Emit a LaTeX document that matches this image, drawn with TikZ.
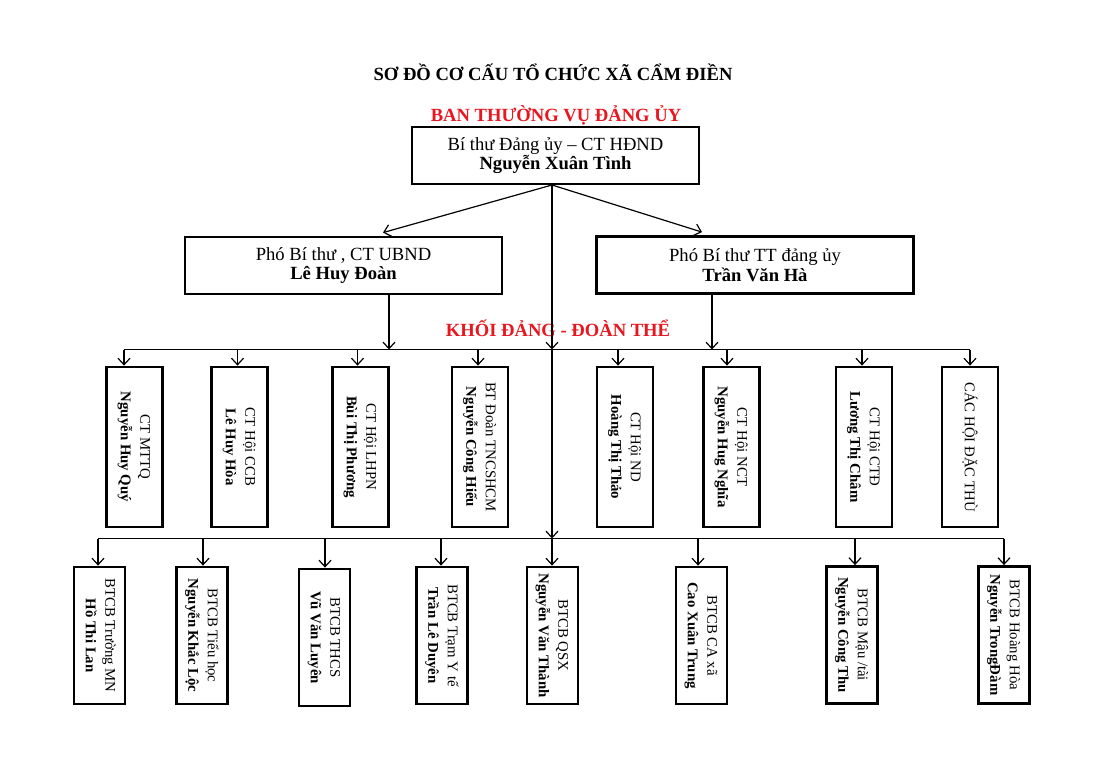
\documentclass[tikz,border=0pt]{standalone}
\usepackage{fontspec}
\setmainfont{Liberation Serif}
\usepackage{graphicx}
\usetikzlibrary{arrows.meta}
\definecolor{redlbl}{RGB}{232,22,30}
\newcommand{\vtxt}[2]{\rotatebox{-90}{\begin{tabular}{@{}c@{}}#1\\\textbf{#2}\end{tabular}}}
\newcommand{\vone}[1]{\rotatebox{-90}{#1}}
\begin{document}
\begin{tikzpicture}[x=1pt,y=-1pt,
 hbox/.style={draw, line width=2.8pt, minimum width=317pt, minimum height=57pt, inner sep=0pt, align=center, font=\fontsize{18.6}{19.5}\selectfont},
 vbox/.style={draw, line width=2.8pt, inner sep=0pt, font=\fontsize{14.8}{19.5}\selectfont},
 uprow/.style={vbox, minimum width=56pt, minimum height=160pt},
 lowrow/.style={vbox, minimum width=51pt, minimum height=137pt},
 conn/.style={line width=1.2pt},
 arr/.style={conn, -{Straight Barb[length=6.5pt,width=12pt]}},
 lbl/.style={font=\fontsize{18.6}{20}\selectfont\bfseries}]
\useasboundingbox[fill=white] (0,0) rectangle (1106,777);

\node[lbl] (title) at (553,72) {SƠ ĐỒ CƠ CẤU TỔ CHỨC XÃ CẨM ĐIỀN};
\node[lbl, text=redlbl] (ban) at (556,115) {BAN THƯỜNG VỤ ĐẢNG ỦY};
\node[hbox, minimum width=287pt] (top) at (555.5,155.5) {Bí thư Đảng ủy – CT HĐND\\\textbf{Nguyễn Xuân Tình}};
\node[hbox] (ld) at (343.5,265.5) {Phó Bí thư , CT UBND\\\textbf{Lê Huy Đoàn}};
\node[hbox] (rd) at (755,265) {Phó Bí thư TT đảng ủy\\\textbf{Trần Văn Hà}};
\node[lbl, text=redlbl] (khoi) at (558,328) {KHỐI ĐẢNG - ĐOÀN THỂ};

% upper row
\node[uprow] (m1) at (134.5,447) {\vtxt{CT MTTQ}{Nguyễn Huy Quý}};
\node[uprow] (m2) at (239.5,447) {\vtxt{CT Hội CCB}{Lê Huy Hòa}};
\node[uprow] (m3) at (360.5,447) {\vtxt{CT Hội LHPN}{Bùi Thị Phương}};
\node[uprow] (m4) at (480,447) {\vtxt{BT Đoàn TNCSHCM}{Nguyễn Công Hiếu}};
\node[uprow] (m5) at (625,447) {\vtxt{CT Hội ND}{Hoàng Thị Thảo}};
\node[uprow] (m6) at (731.5,447) {\vtxt{CT Hội NCT}{Nguyễn Hug Nghĩa}};
\node[uprow] (m7) at (864,447) {\vtxt{CT Hội CTĐ}{Lương Thị Châm}};
\node[uprow] (m8) at (970,447) {\vone{CÁC HỘI ĐẶC THÙ}};

% lower row
\node[lowrow] (n1) at (99.5,635.5) {\vtxt{BTCB Trường MN}{Hồ Thi Lan}};
\node[lowrow] (n2) at (202,635.5) {\vtxt{BTCB Tiểu học}{Nguyễn Khắc Lộc}};
\node[lowrow] (n3) at (324.5,637.5) {\vtxt{BTCB THCS}{Vũ Văn Luyên}};
\node[lowrow] (n4) at (442,635.5) {\vtxt{BTCB Trạm Y tế}{Trần Lê Duyên}};
\node[lowrow] (n5) at (552.5,635.5) {\vtxt{BTCB QSX}{Nguyễn Văn Thành}};
\node[lowrow] (n6) at (701.5,635.5) {\vtxt{BTCB CA xã}{Cao Xuân Trung}};
\node[lowrow] (n7) at (852,635) {\vtxt{BTCB Mậu /tài}{Nguyễn Công Thu}};
\node[lowrow] (n8) at (1004,635) {\vtxt{BTCB Hoàng Hòa}{Nguyễn TrongĐàm}};

% coordinates
\coordinate (t0) at (552,185);
\coordinate (c1) at (552,349.5);
\coordinate (c2) at (552,538.5);
\coordinate (l1) at (389,349.5);
\coordinate (r1) at (712,349.5);
\foreach \i/\x in {1/124,2/237.5,3/357.5,4/478,5/618,6/727,7/862,8/970}
  \coordinate (u\i) at (\x,349.5);
\foreach \i/\x in {1/98,2/203,3/325,4/441,5/552,6/698,7/855,8/1004}
  \coordinate (w\i) at (\x,538.5);

% connectors
\draw[arr] (t0) -- ([xshift=39.5pt,yshift=3pt]ld.north);
\draw[arr] (t0) -- ([xshift=-53pt,yshift=3pt]rd.north);
\draw[arr] (t0) -- (c1);
\draw[arr] (c1) -- (c2);
\draw[arr] (ld.south -| l1) -- (l1);
\draw[arr] (rd.south -| r1) -- (r1);
\draw[conn] (u1) -- (u8);
\draw[conn] (w1) -- (w8);
\foreach \i in {1,...,8}{
  \draw[arr] (u\i) -- (u\i |- m\i.north);
  \draw[arr] (w\i) -- (w\i |- n\i.north);
}
\end{tikzpicture}
\end{document}
